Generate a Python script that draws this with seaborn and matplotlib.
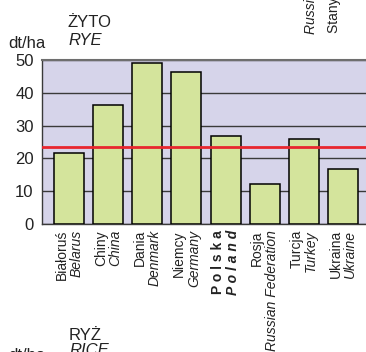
import matplotlib
matplotlib.use("Agg")
import matplotlib.pyplot as plt
import seaborn as sns
import pandas as pd

# rye yields, dt/ha
countries_pl = ["Białoruś", "Chiny", "Dania", "Niemcy", "P o l s k a", "Rosja", "Turcja", "Ukraina"]
countries_en = ["Belarus", "China", "Denmark", "Germany", "P o l a n d", "Russian Federation", "Turkey", "Ukraine"]
rye_yield = [21.6, 36.1, 49.0, 46.4, 26.9, 12.2, 26.0, 16.9]
world_avg = 23.4
y_ticks = [0, 10, 20, 30, 40, 50]

sns.set_theme(style="white")
plt.rcParams["font.family"] = ["Liberation Sans", "DejaVu Sans"]

W, H = 366, 352
fig = plt.figure(figsize=(W / 100, H / 100), dpi=100)


def px(x, y):
    return x / W, 1 - y / H


ax = fig.add_axes([42 / W, (H - 224.3) / H, (370 - 42) / W, (224.3 - 59.7) / H])
ax.set_facecolor("#d6d4ea")

df = pd.DataFrame({"country": countries_pl, "value": rye_yield})
sns.barplot(data=df, x="country", y="value", color="#d4e49c", saturation=1,
            edgecolor="black", linewidth=1.1, width=30 / 39, ax=ax, zorder=3)
ax.axhline(world_avg, color="#e8262e", lw=2.0, zorder=5)

ax.set_axisbelow(True)
ax.yaxis.grid(True, color="#3a3a3a", lw=1.0)
ax.set_xlim(-0.692, 7.692)
ax.set_ylim(0, 50)
ax.set_yticks(y_ticks)
ax.tick_params(axis="y", length=0, pad=6, labelsize=12, labelcolor="#222222")
ax.set_xticks([])
ax.set_xlabel("")
ax.set_ylabel("")
for s in ["left", "bottom"]:
    ax.spines[s].set_color("#3a3a3a")
    ax.spines[s].set_linewidth(1.0)
ax.spines["top"].set_color("#6e6e6e")
ax.spines["top"].set_linewidth(1.5)
ax.spines["right"].set_visible(False)

# two-line rotated category labels
trans = ax.get_xaxis_transform()
for i, (pl, en) in enumerate(zip(countries_pl, countries_en)):
    w = "bold" if pl.startswith("P o") else "normal"
    ax.text(i - 0.19, -0.035, pl, transform=trans, rotation=90, ha="center", va="top",
            fontsize=10, fontweight=w, color="#222222")
    ax.text(i + 0.19, -0.035, en, transform=trans, rotation=90, ha="center", va="top",
            fontsize=10, fontweight=w, fontstyle="italic", color="#222222")

# titles
fig.text(*px(68, 26.7), "ŻYTO", fontsize=12, va="baseline", color="#222222")
fig.text(*px(68, 45), "RYE", fontsize=12, fontstyle="italic", va="baseline", color="#222222")
fig.text(*px(8, 48), "dt/ha", fontsize=12, va="baseline", color="#222222")

fig.text(*px(69, 340), "RYŻ", fontsize=12, va="baseline", color="#222222")
fig.text(*px(69, 355), "RICE", fontsize=12, fontstyle="italic", va="baseline", color="#222222")
fig.text(*px(8, 360), "dt/ha", fontsize=12, va="baseline", color="#222222")

# labels of the chart above, cut by the frame
fig.text(*px(311, 34), "Russian Federation", fontsize=10, fontstyle="italic", rotation=90,
         ha="center", va="bottom", color="#222222")
fig.text(*px(334, 33), "Stany Zjednoczone", fontsize=10, rotation=90,
         ha="center", va="bottom", color="#222222")

fig.savefig("out.png", dpi=100)
